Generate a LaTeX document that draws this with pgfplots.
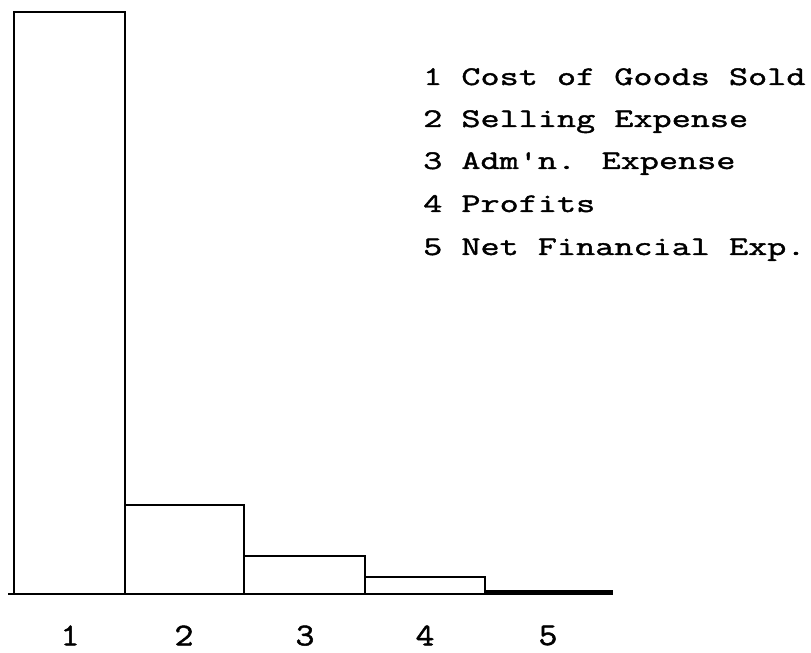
\documentclass[border=0pt]{standalone}
\usepackage{pgfplots}
\pgfplotsset{compat=1.18}
\usepackage{fontspec}
\newfontfamily\tw{Latin Modern Mono}[FakeStretch=1.38, FakeBold=1.5]
\newfontfamily\twd{Latin Modern Mono}[FakeStretch=1.15, FakeBold=1.5]
\begin{document}
\begin{tikzpicture}[x=1bp,y=1bp]
\begin{axis}[
  scale only axis,
  width=604bp, height=582bp,
  xmin=8, xmax=612, ymin=0, ymax=582,
  axis x line*=bottom,
  axis y line=none,
  x axis line style={line width=2bp, black},
  xtick={70,184,305,425,548},
  xticklabels={1,2,3,4,5},
  major tick length=0pt,
  xticklabel style={font=\twd\fontsize{32}{34}\selectfont, yshift=-28bp},
  clip=false,
]
\addplot[ybar interval, draw=black, line width=1.5bp, fill=none]
  coordinates {(14,582) (125,89) (244,38) (365,17) (485,3) (612,3)};
\addplot[ybar interval, draw=black, line width=1.5bp, fill=black]
  coordinates {(485,3) (612,3)};
\coordinate (BL) at (axis cs:0,-59);
\coordinate (TR) at (axis cs:811,594);
\begin{scope}[every node/.style={anchor=base west, inner sep=0pt, font=\tw\fontsize{27}{30}\selectfont}]
\node at (axis cs:423,509) {1 Cost of Goods Sold};
\node at (axis cs:423,467) {2 Selling Expense};
\node at (axis cs:423,425) {3 Adm'n. Expense};
\node at (axis cs:423,382) {4 Profits};
\node at (axis cs:423,339) {5 Net Financial Exp.};
\end{scope}
\end{axis}
\pgfresetboundingbox
\path (BL) rectangle (TR);
\end{tikzpicture}
\end{document}
